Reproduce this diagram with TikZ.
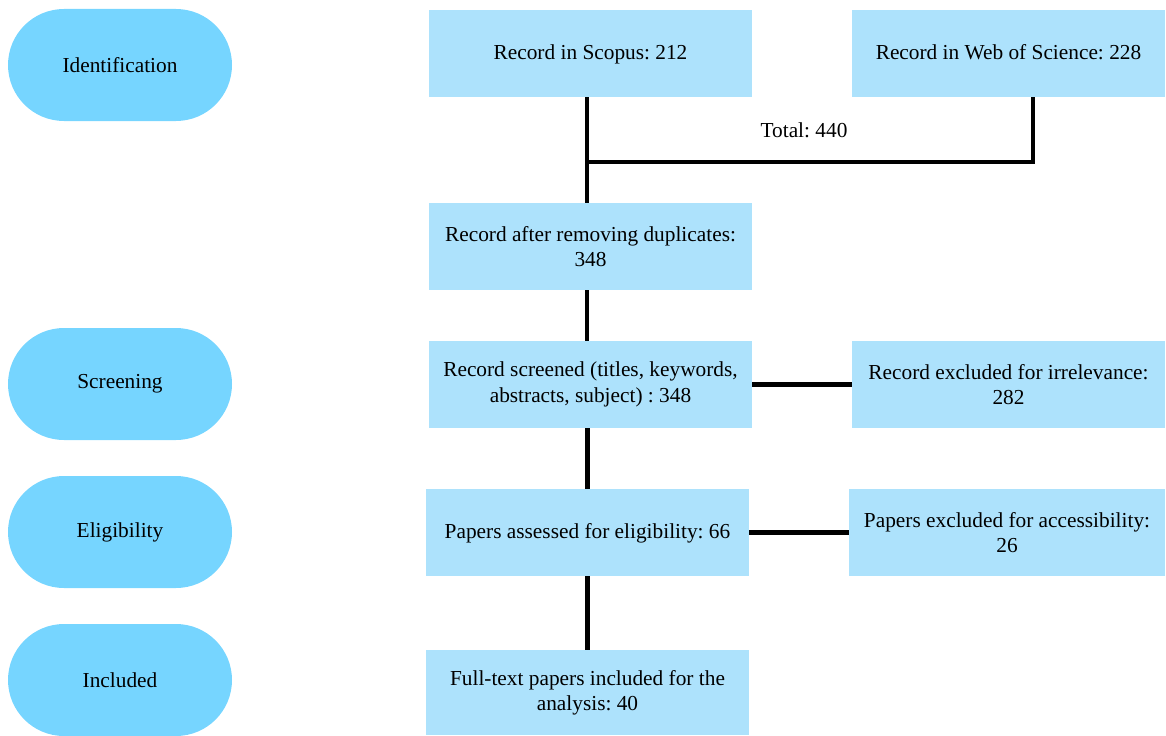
\documentclass[tikz,border=0pt]{standalone}
\usepackage{fontspec}
\setmainfont{Liberation Serif}
\usepackage{tikz}
\usetikzlibrary{positioning,calc}
\definecolor{stagefill}{RGB}{118,213,255}
\definecolor{boxfill}{RGB}{173,226,252}
\frenchspacing

\begin{document}
\begin{tikzpicture}[x=0.75pt,y=-0.75pt,
    stage/.style={fill=stagefill,minimum width=168pt,minimum height=84pt,rounded corners=42pt,font=\fontsize{16}{19}\selectfont},
    recbox/.style={fill=boxfill,minimum height=65.25pt,align=center,font=\fontsize{16}{19}\selectfont},
    link/.style={line width=3.6pt}]
  \useasboundingbox (0,0) rectangle (1166,735);
  % stages on the left
  \foreach \name/\y/\txt in {ident/65/Identification,screen/384/Screening,elig/532/Eligibility,incl/680/Included}{
    \node[stage] (\name) at (120,\y) {\txt};
  }
  % records
  \node[recbox,minimum width=242.25pt,text depth=2pt] (scopus) at (590.5,53.5) {Record in Scopus: 212};
  \node[recbox,minimum width=234.75pt,text depth=2pt] (wos) at (1008.5,53.5) {Record in Web of Science: 228};
  \node[recbox,minimum width=242.25pt] (dup) at (590.5,246.5) {Record after removing duplicates:\\348};
  \node[recbox,minimum width=242.25pt] (scr) at (590.5,384.5) {Record screened (titles, keywords,\\abstracts, subject) : 348};
  \node[recbox,minimum width=234.75pt] (irrel) at (1008.5,384.5) {Record excluded for irrelevance:\\282};
  \node[recbox,minimum width=242.25pt,text depth=2pt] (assess) at (587.5,532.5) {Papers assessed for eligibility: 66};
  \node[recbox,minimum width=237pt] (access) at (1007,532.5) {Papers excluded for accessibility:\\26};
  \node[recbox,minimum width=242.25pt,minimum height=63.75pt] (full) at (587.5,692.5) {Full-text papers included for the\\analysis: 40};
  \node[font=\fontsize{16}{19}\selectfont] (total) at (804,130) {Total: 440};
  % connectors
  \coordinate (join) at (587,162);
  \coordinate (wosdrop) at (1033,97);
  \draw[link] (scopus.south -| join) -- (dup.north -| join);
  \draw[link] (wosdrop) |- (join);
  \draw[link] (dup.south -| join) -- (scr.north -| join);
  \draw[link] (scr) -- (irrel);
  \draw[link] (scr.south -| assess) -- (assess.north);
  \draw[link] (assess) -- (access);
  \draw[link] (assess) -- (full);
\end{tikzpicture}
\end{document}
